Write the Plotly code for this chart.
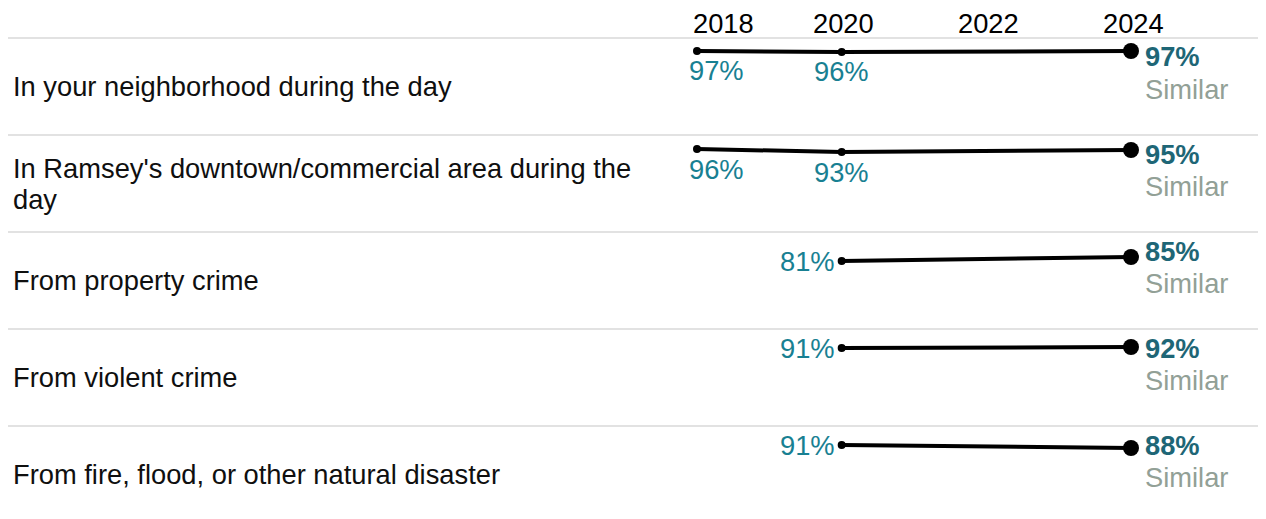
import plotly.graph_objects as go

# ---- data ----
row_labels = [
    "In your neighborhood during the day",
    "In Ramsey's downtown/commercial area during the<br>day",
    "From property crime",
    "From violent crime",
    "From fire, flood, or other natural disaster",
]
years = [2018, 2020, 2024]
v2018 = [97, 96, None, None, None]
v2020 = [96, 93, 81, 91, 91]
v2024 = [97, 95, 85, 92, 88]
comparison = ["Similar", "Similar", "Similar", "Similar", "Similar"]
tick_years = [2018, 2020, 2022, 2024]

# ---- layout constants ----
OFF = 8  # the page body margin offsets the figure by 8 px; compensate
W, H = 1266 - 2 * OFF, 519 - 2 * OFF
HEADER = 38 - OFF
ROW_H = 97
TOP_VAL = 110  # value mapped to the top edge of each row (1 px per percentage point)
X18_PX, X24_PX = 697 - OFF, 1131 - OFF
ppy = (X24_PX - X18_PX) / 6.0
x_lo = 2018 - X18_PX / ppy
x_hi = 2024 + (W - X24_PX) / ppy

FONT = "Arial, Liberation Sans, sans-serif"
FS = 27.3
TEAL = "rgb(24,128,146)"
DARK_TEAL = "rgb(30,102,118)"
GREY = "rgb(146,160,150)"
TXT = "rgb(15,15,15)"
SEP = "rgb(216,216,216)"

fig = go.Figure()
annotations = []
shapes = []
layout_axes = {}

for i, label in enumerate(row_labels):
    top = HEADER + ROW_H * i
    bot = min(top + ROW_H, H)
    d0 = 1 - bot / H
    d1 = 1 - top / H
    hpx = bot - top
    ykey = "yaxis" if i == 0 else f"yaxis{i+1}"
    yref = "y" if i == 0 else f"y{i+1}"
    layout_axes[ykey] = dict(domain=[d0, d1], range=[TOP_VAL - hpx, TOP_VAL],
                             visible=False, fixedrange=True, anchor="x")

    vals = [v2018[i], v2020[i], v2024[i]]
    xs = [y for y, v in zip(years, vals) if v is not None]
    ys = [v for v in vals if v is not None]
    sizes = [16 if y == 2024 else 8 for y in xs]
    fig.add_trace(go.Scatter(x=xs, y=ys, mode="lines+markers", yaxis=yref, xaxis="x",
                             line=dict(color="black", width=4),
                             marker=dict(color="black", size=sizes, opacity=1,
                                         line=dict(width=0)),
                             opacity=1,
                             cliponaxis=False, hoverinfo="skip", showlegend=False))

    # separator line at top of row
    shapes.append(dict(type="line", xref="paper", yref="paper", x0=-0.01, x1=1.01,
                       y0=1 - top / H, y1=1 - top / H,
                       line=dict(color=SEP, width=1.5)))

    # row label (possibly two lines)
    parts = label.split("<br>")
    n = len(parts)
    centre = TOP_VAL - ROW_H / 2.0
    for k, part in enumerate(parts):
        off = (k - (n - 1) / 2.0) * 31
        annotations.append(dict(text=part, xref="paper", x=(11 - OFF) / W, xanchor="left",
                                yref=yref, y=centre - off, yanchor="middle",
                                showarrow=False, font=dict(family=FONT, size=FS, color=TXT)))

    # labels for earlier points
    has18 = v2018[i] is not None
    if has18:
        annotations.append(dict(text=f"{v2018[i]}%", xref="x", x=2018, xanchor="left", xshift=-10,
                                yref=yref, y=v2018[i], yanchor="middle", yshift=-20,
                                showarrow=False, font=dict(family=FONT, size=FS, color=TEAL)))
        annotations.append(dict(text=f"{v2020[i]}%", xref="x", x=2020, xanchor="center",
                                yref=yref, y=v2020[i], yanchor="middle", yshift=-20,
                                showarrow=False, font=dict(family=FONT, size=FS, color=TEAL)))
    else:
        annotations.append(dict(text=f"{v2020[i]}%", xref="x", x=2020, xanchor="right", xshift=-5,
                                yref=yref, y=v2020[i], yanchor="middle",
                                showarrow=False, font=dict(family=FONT, size=FS, color=TEAL)))

    # latest value and comparison
    annotations.append(dict(text=f"<b>{v2024[i]}%</b>", xref="x", x=2024, xanchor="left", xshift=12,
                            yref=yref, y=TOP_VAL - 19, yanchor="middle",
                            showarrow=False, font=dict(family=FONT, size=FS, color=DARK_TEAL)))
    annotations.append(dict(text=comparison[i], xref="x", x=2024, xanchor="left", xshift=12,
                            yref=yref, y=TOP_VAL - 51, yanchor="middle",
                            showarrow=False, font=dict(family=FONT, size=FS, color=GREY)))

# year header labels
for yr in tick_years:
    first = yr == tick_years[0]
    annotations.append(dict(text=str(yr), xref="x", x=yr,
                            xanchor="left" if first else "center",
                            xshift=-6 if first else 2,
                            yref="paper", y=1 - (23 - OFF) / H, yanchor="middle",
                            showarrow=False, font=dict(family=FONT, size=FS, color="black")))

fig.update_layout(
    width=W, height=H,
    margin=dict(l=0, r=0, t=0, b=0),
    paper_bgcolor="white", plot_bgcolor="white",
    xaxis=dict(range=[x_lo, x_hi], domain=[0, 1], visible=False, fixedrange=True),
    annotations=annotations,
    shapes=shapes,
    showlegend=False,
    **layout_axes,
)

fig.write_html("out.html")
